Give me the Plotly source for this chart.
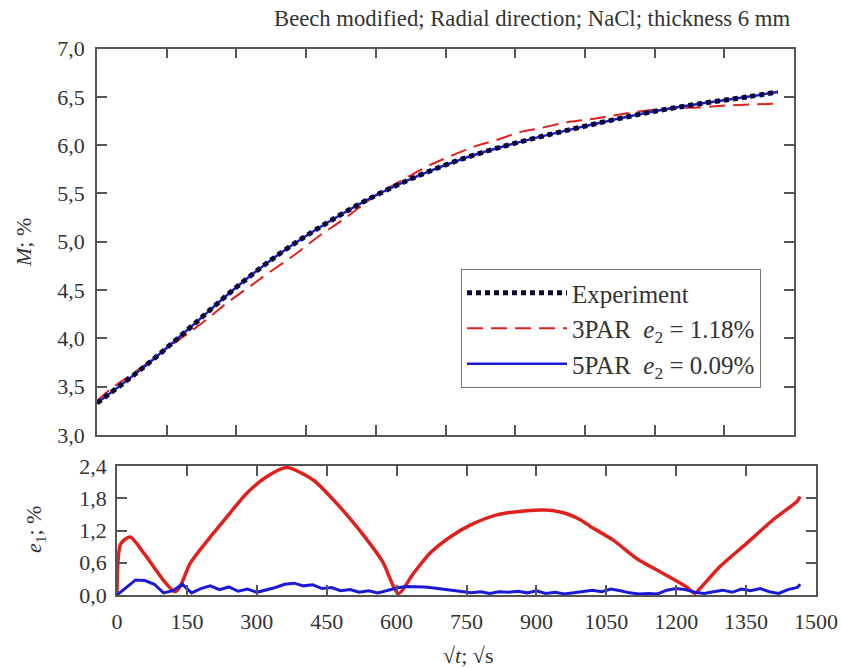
import plotly.graph_objects as go

# ---------------- data ----------------
# top panel: moisture content M (%) vs sqrt(t)
exp_x = [0, 100, 200, 300, 400, 500, 600, 700, 800, 900, 1000, 1100, 1200, 1300, 1400, 1465]
exp_m = [3.33, 3.70, 4.11, 4.53, 4.90, 5.21, 5.48, 5.70, 5.88, 6.02, 6.14, 6.25, 6.35, 6.43, 6.50, 6.55]

par5_x = [0, 100, 200, 300, 400, 500, 600, 700, 800, 900, 1000, 1100, 1200, 1300, 1400, 1465]
par5_m = [3.33, 3.70, 4.11, 4.53, 4.90, 5.21, 5.48, 5.70, 5.88, 6.02, 6.14, 6.25, 6.35, 6.43, 6.50, 6.55]

par3_x = [0, 28, 60, 99, 124, 157, 207, 242, 278, 321, 364, 421, 478, 530, 603, 636,
          672, 715, 758, 815, 858, 915, 958, 1015, 1065, 1115, 1172, 1240, 1294, 1351,
          1408, 1466]
par3_m = [3.35, 3.47, 3.58, 3.71, 3.80, 3.92, 4.09, 4.22, 4.36, 4.51, 4.66, 4.85, 5.06,
          5.23, 5.49, 5.58, 5.68, 5.79, 5.88, 5.99, 6.05, 6.14, 6.18, 6.24, 6.27, 6.31,
          6.35, 6.38, 6.39, 6.41, 6.42, 6.43]

# bottom panel: relative error e1 (%)
err3_x = [0, 8, 28, 60, 99, 124, 135, 157, 207, 242, 278, 321, 364, 421, 478, 530,
          570, 604, 636, 672, 715, 758, 815, 858, 915, 958, 994, 1015, 1065, 1115,
          1172, 1222, 1240, 1251, 1294, 1351, 1408, 1459, 1466]
err3_e = [0.0, 0.95, 1.08, 0.75, 0.28, 0.06, 0.15, 0.59, 1.15, 1.52, 1.89, 2.20, 2.37,
          2.14, 1.64, 1.10, 0.62, 0.03, 0.40, 0.78, 1.08, 1.30, 1.49, 1.55, 1.58, 1.53,
          1.40, 1.28, 1.02, 0.68, 0.40, 0.15, 0.03, 0.12, 0.53, 0.96, 1.40, 1.74, 1.83]

err5_x = [0, 20, 40, 60, 80, 100, 120, 140, 160, 180, 200, 220, 240, 260, 280, 300,
          320, 340, 360, 380, 400, 420, 440, 460, 480, 500, 520, 540, 560, 580, 600,
          620, 640, 660, 680, 700, 720, 740, 760, 780, 800, 820, 840, 860, 880, 900,
          920, 940, 960, 980, 1000, 1020, 1040, 1060, 1080, 1100, 1120, 1140, 1160,
          1180, 1200, 1220, 1240, 1260, 1280, 1300, 1320, 1340, 1360, 1380, 1400,
          1420, 1440, 1460, 1466]
err5_e = [0.00, 0.14, 0.28, 0.27, 0.20, 0.04, 0.08, 0.20, 0.04, 0.12, 0.17, 0.10, 0.15,
          0.07, 0.11, 0.05, 0.09, 0.14, 0.20, 0.22, 0.17, 0.19, 0.12, 0.14, 0.08, 0.10,
          0.05, 0.08, 0.04, 0.09, 0.13, 0.16, 0.16, 0.15, 0.13, 0.11, 0.08, 0.06, 0.04,
          0.06, 0.03, 0.06, 0.05, 0.07, 0.04, 0.08, 0.03, 0.05, 0.02, 0.04, 0.06, 0.09,
          0.06, 0.11, 0.08, 0.04, 0.02, 0.03, 0.02, 0.09, 0.12, 0.10, 0.05, 0.03, 0.06,
          0.09, 0.05, 0.11, 0.08, 0.12, 0.06, 0.03, 0.10, 0.14, 0.20]

x_ticks = [0, 150, 300, 450, 600, 750, 900, 1050, 1200, 1350, 1500]
x_ticktext = ["0", "150", "300", "450", "600", "750", "900", "1050", "1200", "1350", "1500"]
m_ticks = [3.0, 3.5, 4.0, 4.5, 5.0, 5.5, 6.0, 6.5, 7.0]
m_ticktext = ["3,0", "3,5", "4,0", "4,5", "5,0", "5,5", "6,0", "6,5", "7,0"]
e_ticks = [0.0, 0.6, 1.2, 1.8, 2.4]
e_ticktext = ["0,0", "0,6", "1,2", "1,8", "2,4"]

title_text = "Beech modified; Radial direction; NaCl; thickness 6 mm"

# ---------------- styling ----------------
FONT = "Liberation Serif, Times New Roman, serif"
TXT = "#333333"
AX = "#555555"
RED = "#e0201c"
BLUE = "#1a1ad6"

W, H = 842, 668
fig = go.Figure()

fig.add_trace(go.Scatter(x=par3_x, y=par3_m, mode="lines", name="3PAR  <i>e</i><sub>2</sub> = 1.18%",
                         line=dict(color=RED, width=2, dash="16px,8px", shape="spline", smoothing=1),
                         xaxis="x", yaxis="y", legendgroup="b", legendrank=2))
fig.add_trace(go.Scatter(x=par5_x, y=par5_m, mode="lines", name="5PAR  <i>e</i><sub>2</sub> = 0.09%",
                         line=dict(color=BLUE, width=2.5, shape="spline", smoothing=1),
                         xaxis="x", yaxis="y", legendgroup="c", legendrank=3))
fig.add_trace(go.Scatter(x=exp_x, y=exp_m, mode="lines", name="Experiment",
                         line=dict(color="#0a0a30", width=5, dash="5px,4px", shape="spline", smoothing=1),
                         xaxis="x", yaxis="y", legendgroup="a", legendrank=1))

fig.add_trace(go.Scatter(x=err3_x, y=err3_e, mode="lines", showlegend=False,
                         line=dict(color=RED, width=3.5, shape="spline", smoothing=0.7),
                         xaxis="x2", yaxis="y2"))
fig.add_trace(go.Scatter(x=err5_x, y=err5_e, mode="lines", showlegend=False,
                         line=dict(color=BLUE, width=3), xaxis="x2", yaxis="y2"))

common_axis = dict(showline=True, linecolor=AX, linewidth=1.5, mirror="ticks",
                   ticks="inside", ticklen=10, tickwidth=1.5, tickcolor=AX,
                   showgrid=False, zeroline=False, automargin=False,
                   tickfont=dict(family=FONT, size=22, color=TXT))

fig.update_layout(
    width=W, height=H, autosize=False,
    margin=dict(l=0, r=0, t=0, b=0, autoexpand=False),
    paper_bgcolor="white", plot_bgcolor="white",
    font=dict(family=FONT, color=TXT, size=22),
    xaxis=dict(domain=[97 / W, 794 / W], range=[0, 1500], tickvals=x_ticks,
               ticktext=x_ticktext, showticklabels=False, anchor="y", **common_axis),
    yaxis=dict(domain=[1 - 435 / H, 1 - 48.5 / H], range=[3.0, 7.0], tickvals=m_ticks,
               ticktext=m_ticktext, anchor="x", ticklabelstandoff=6, **common_axis),
    xaxis2=dict(domain=[117 / W, 816 / W], range=[0, 1500], tickvals=x_ticks,
                ticktext=x_ticktext, anchor="y2", ticklabelstandoff=6, **common_axis),
    yaxis2=dict(domain=[1 - 595 / H, 1 - 466 / H], range=[0, 2.4], tickvals=e_ticks,
                ticktext=e_ticktext, anchor="x2", ticklabelstandoff=4, **common_axis),
    legend=dict(x=461 / W, y=1 - 269 / H, xanchor="left", yanchor="top",
                bgcolor="white", bordercolor="#777777", borderwidth=1,
                font=dict(family=FONT, size=25, color=TXT),
                tracegroupgap=18, itemwidth=100, traceorder="normal"),
    showlegend=True,
)

fig.add_annotation(text=title_text, x=792 / W, y=1 - 18 / H, xref="paper", yref="paper",
                   xanchor="right", yanchor="middle", showarrow=False,
                   font=dict(family=FONT, size=22.7, color=TXT))
fig.add_annotation(text="<i>M</i>; %", x=23 / W, y=1 - 243 / H, xref="paper", yref="paper",
                   textangle=-90, showarrow=False, xanchor="center", yanchor="middle",
                   font=dict(family=FONT, size=22, color=TXT))
fig.add_annotation(text="<i>e</i><sub>1</sub>; %", x=35 / W, y=1 - 530 / H, xref="paper", yref="paper",
                   textangle=-90, showarrow=False, xanchor="center", yanchor="middle",
                   font=dict(family=FONT, size=22, color=TXT))
fig.add_annotation(text="√<i>t</i>; √s", x=468 / W, y=1 - 655 / H, xref="paper", yref="paper",
                   showarrow=False, xanchor="center", yanchor="middle",
                   font=dict(family=FONT, size=22, color=TXT))

fig.write_html("out.html", config={"displayModeBar": False},
               post_script="document.body.style.margin='0px';document.body.style.overflow='hidden';")
